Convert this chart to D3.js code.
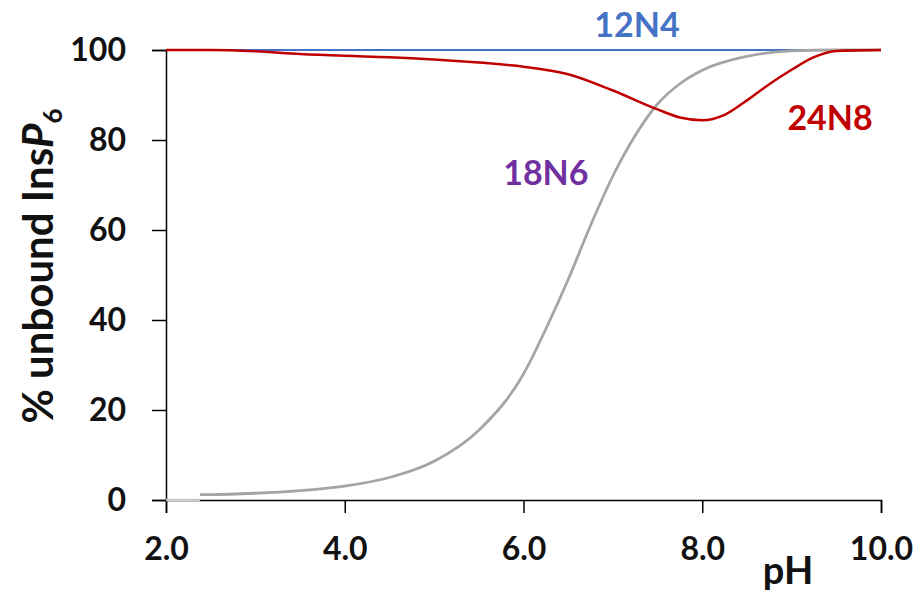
<!DOCTYPE html>
<html>
<head>
<meta charset="utf-8">
<script src="https://cdn.jsdelivr.net/npm/d3@7"></script>
<style>
  body { margin: 0; background: #fff; }
  text { font-family: Lato, "Open Sans", sans-serif; font-weight: 700; }
</style>
</head>
<body>
<div id="chart"></div>
<script>
// data
const phTicks = [2, 4, 6, 8, 10]
const pctTicks = [0, 20, 40, 60, 80, 100]

const n12 = [[2, 100], [10, 100]]

const n18Base = [[2, 0], [2.38, 0]]
const n18 = [
  [2.38, 1.2], [2.5, 1.2], [3.0, 1.5], [3.5, 2.1], [4.0, 3.1], [4.5, 5.0],
  [5.0, 8.6], [5.5, 15.5], [6.0, 28], [6.25, 38], [6.5, 49], [6.75, 61],
  [7.0, 72], [7.25, 81], [7.5, 88], [7.75, 92.5], [8.0, 95.5], [8.5, 98.6],
  [9.0, 99.8], [9.5, 100], [10.0, 100]
]

const n24 = [
  [2.0, 100], [2.5, 100], [3.0, 99.7], [3.5, 99.1], [4.0, 98.7], [4.5, 98.4],
  [5.0, 97.9], [5.5, 97.2], [6.0, 96.3], [6.5, 94.6], [7.0, 91.0], [7.5, 86.8],
  [7.75, 85.0], [8.0, 84.4], [8.25, 85.6], [8.5, 88.8], [8.75, 92.4],
  [9.0, 95.6], [9.25, 98.4], [9.5, 99.8], [10.0, 100]
]

const seriesLabels = [
  { text: "12N4", ph: 7.27, pct: 102.8, color: "#4472C4" },
  { text: "18N6", ph: 6.25, pct: 70, color: "#7030A0" },
  { text: "24N8", ph: 9.43, pct: 82.2, color: "#C00000" }
]

// dimensions
let dimensions = {
  width: 923,
  height: 602,
  margin: { top: 50, right: 42, bottom: 102, left: 166 },
}
dimensions.boundedWidth = dimensions.width - dimensions.margin.left - dimensions.margin.right
dimensions.boundedHeight = dimensions.height - dimensions.margin.top - dimensions.margin.bottom

const svg = d3.select("#chart")
  .append("svg")
    .attr("width", dimensions.width)
    .attr("height", dimensions.height)

const bounds = svg.append("g")
    .attr("transform", `translate(${dimensions.margin.left},${dimensions.margin.top})`)

// scales
const xScale = d3.scaleLinear()
  .domain([2, 10])
  .range([0, dimensions.boundedWidth])

const yScale = d3.scaleLinear()
  .domain([0, 100])
  .range([dimensions.boundedHeight, 0])

const lineGen = d3.line()
  .x(d => xScale(d[0]))
  .y(d => yScale(d[1]))
  .curve(d3.curveMonotoneX)

// axes
const xAxis = bounds.append("g")
    .attr("transform", `translate(0,${dimensions.boundedHeight})`)
    .call(d3.axisBottom(xScale).tickValues(phTicks).tickFormat(d3.format(".1f")).tickSize(13).tickPadding(24))
xAxis.select(".domain").attr("stroke", "#000").attr("stroke-width", 1.5)
xAxis.selectAll(".tick line").attr("stroke", "#000").attr("stroke-width", 1.5)
xAxis.selectAll("text").attr("font-size", 32).attr("fill", "#111")

const yAxis = bounds.append("g")
    .call(d3.axisLeft(yScale).tickValues(pctTicks).tickSize(14).tickPadding(26))
yAxis.select(".domain").attr("stroke", "#000").attr("stroke-width", 1.5)
yAxis.selectAll(".tick line").attr("stroke", "#000").attr("stroke-width", 1.5)
yAxis.selectAll("text").attr("font-size", 32).attr("fill", "#111")

// lines
bounds.append("path")
    .attr("d", lineGen(n12))
    .attr("fill", "none")
    .attr("stroke", "#4472C4")
    .attr("stroke-width", 2)

bounds.append("path")
    .attr("d", d3.line().x(d => xScale(d[0])).y(d => yScale(d[1]))(n18Base))
    .attr("fill", "none")
    .attr("stroke", "#C8C8C8")
    .attr("stroke-width", 2.5)

bounds.append("path")
    .attr("d", lineGen(n18))
    .attr("fill", "none")
    .attr("stroke", "#A5A5A5")
    .attr("stroke-width", 2.8)

bounds.append("path")
    .attr("d", lineGen(n24))
    .attr("fill", "none")
    .attr("stroke", "#C00000")
    .attr("stroke-width", 2.5)

// series labels
bounds.selectAll(".series-label")
  .data(seriesLabels)
  .join("text")
    .attr("class", "series-label")
    .attr("x", d => xScale(d.ph))
    .attr("y", d => yScale(d.pct))
    .attr("text-anchor", "middle")
    .attr("font-size", 34)
    .attr("fill", d => d.color)
    .text(d => d.text)

// axis titles
svg.append("text")
    .attr("x", 788)
    .attr("y", 584)
    .attr("text-anchor", "middle")
    .attr("font-size", 38)
    .attr("fill", "#111")
    .text("pH")

const yTitle = svg.append("text")
    .attr("transform", "translate(53,266) rotate(-90)")
    .attr("text-anchor", "middle")
    .attr("font-size", 42)
    .attr("fill", "#111")
yTitle.append("tspan").text("% unbound Ins")
yTitle.append("tspan").attr("font-style", "italic").text("P")
yTitle.append("tspan").attr("font-size", 26).attr("dy", 9).text("6")
</script>
</body>
</html>
